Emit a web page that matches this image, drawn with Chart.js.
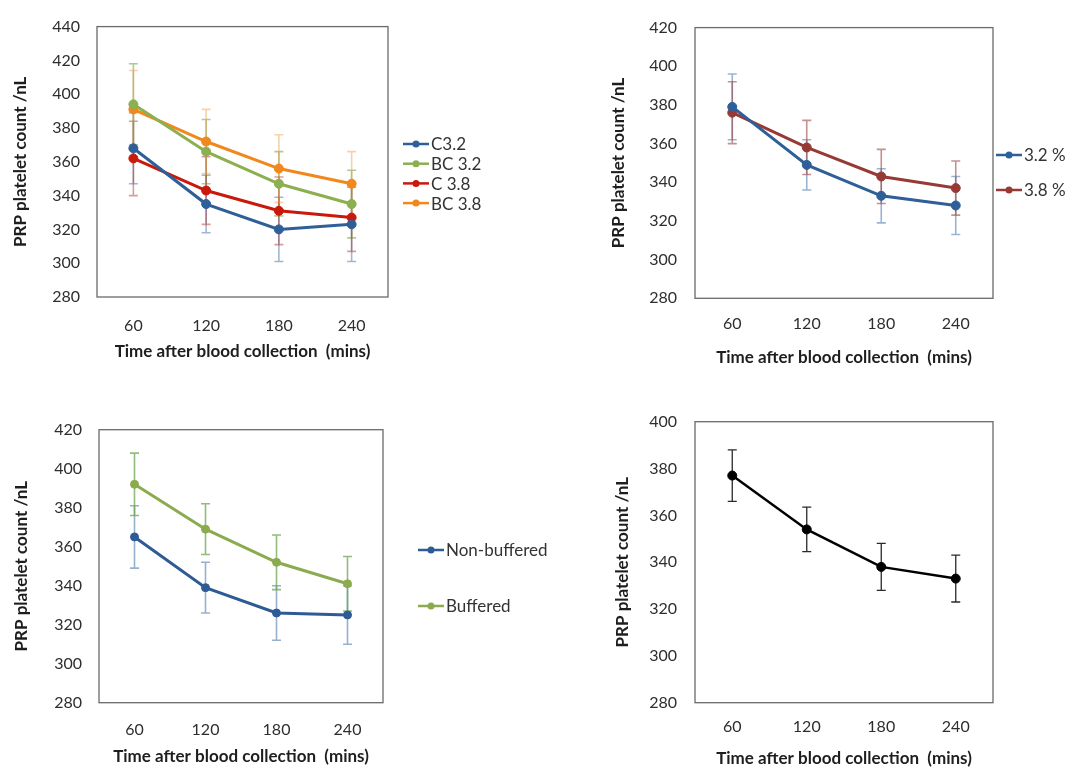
<!DOCTYPE html>
<html>
<head>
<meta charset="utf-8">
<title>PRP platelet count</title>
<script src="https://cdn.jsdelivr.net/npm/chart.js@4.4.1/dist/chart.umd.min.js"></script>
<style>
    html, body { margin: 0; padding: 0; background: #fff; }
    #page { position: relative; width: 1072px; height: 769px; }
    #page canvas { position: absolute; }
</style>
</head>
<body>
<div id="page">
    <canvas id="panelA" width="570" height="385" style="left:0;top:0"></canvas>
    <canvas id="panelB" width="527" height="385" style="left:545px;top:0"></canvas>
    <canvas id="panelC" width="570" height="384" style="left:0;top:385px"></canvas>
    <canvas id="panelD" width="527" height="384" style="left:545px;top:385px"></canvas>
</div>
<script>
// x categories (minutes after blood collection)
const minutes = ['60', '120', '180', '240'];

// panel A: citrate / buffered citrate
const c32 = [368, 335, 320, 323];
const c32Err = [21, 17, 19, 22];
const bc32 = [394, 366, 347, 335];
const bc32Err = [24, 19, 19, 20];
const c38 = [362, 343, 331, 327];
const c38Err = [22, 20, 20, 20];
const bc38 = [391, 372, 356, 347];
const bc38Err = [23, 19, 20, 19];
const rangeA = [280, 440];

// panel B: 3.2 % vs 3.8 %
const pct32 = [379, 349, 333, 328];
const pct32Err = [17, 13, 14, 15];
const pct38 = [376, 358, 343, 337];
const pct38Err = [16, 14, 14, 14];
const rangeB = [280, 420];

// panel C: non-buffered vs buffered
const nonBuffered = [365, 339, 326, 325];
const nonBufferedErr = [16, 13, 14, 15];
const buffered = [392, 369, 352, 341];
const bufferedErr = [16, 13, 14, 14];
const rangeC = [280, 420];

// panel D: all samples
const allSamples = [377, 354, 338, 333];
const allSamplesErr = [11, 9.5, 10, 10];
const rangeD = [280, 400];

const yStep = 20;
const yTitle = 'PRP platelet count /nL';
const xTitle = 'Time after blood collection  (mins)';

Chart.defaults.font.family = 'Lato, "Open Sans", sans-serif';

// vertical error bars with caps, drawn under the lines
const errorBars = {
    id: 'errorBars',
    beforeDatasetsDraw(chart, _args, opts) {
        const { ctx, scales: { x, y } } = chart;
        const cap = opts.cap || 4;
        ctx.save();
        ctx.lineWidth = opts.width || 1.5;
        chart.data.datasets.forEach((ds, i) => {
            if (!ds.errors) return;
            ctx.strokeStyle = ds.errorColor;
            ds.data.forEach((v, j) => {
                const e = ds.errors[j];
                const px = x.getPixelForValue(j);
                const top = y.getPixelForValue(v + e);
                const bot = y.getPixelForValue(v - e);
                ctx.beginPath();
                ctx.moveTo(px, top); ctx.lineTo(px, bot);
                ctx.moveTo(px - cap, top); ctx.lineTo(px + cap, top);
                ctx.moveTo(px - cap, bot); ctx.lineTo(px + cap, bot);
                ctx.stroke();
            });
        });
        ctx.restore();
    }
};

// frame around the plot area
const plotBox = {
    id: 'plotBox',
    beforeDatasetsDraw(chart) {
        const { ctx, chartArea: a } = chart;
        ctx.save();
        ctx.strokeStyle = '#6b6b6b';
        ctx.lineWidth = 1.3;
        ctx.strokeRect(a.left, a.top, a.right - a.left, a.bottom - a.top);
        ctx.restore();
    }
};

// excel style legend: short line with a marker, then the label
const sideLegend = {
    id: 'sideLegend',
    afterDraw(chart, _args, opts) {
        if (!opts || !opts.show) return;
        const { ctx } = chart;
        ctx.save();
        ctx.font = '17px ' + Chart.defaults.font.family;
        ctx.textBaseline = 'middle';
        chart.data.datasets.forEach((ds, i) => {
            const y = opts.y + i * opts.gap;
            ctx.strokeStyle = ds.borderColor;
            ctx.lineWidth = 2.5;
            ctx.beginPath();
            ctx.moveTo(opts.x, y);
            ctx.lineTo(opts.x + 26, y);
            ctx.stroke();
            ctx.fillStyle = ds.borderColor;
            ctx.beginPath();
            ctx.arc(opts.x + 13, y, 3.5, 0, Math.PI * 2);
            ctx.fill();
            ctx.fillStyle = '#333';
            ctx.fillText(ds.label, opts.x + 28, y + 1);
        });
        ctx.restore();
    }
};

function makePanel(id, cfg) {
    const canvas = document.getElementById(id);
    const W = canvas.width, H = canvas.height;
    const a = cfg.area;
    const titleSize = 17;
    const lh = titleSize * 1.2;
    const padLeft = cfg.yTitleX - lh / 2;
    const xBottom = cfg.xTitleY + lh / 2;
    const titleFont = { size: titleSize, weight: 'bold' };
    const tickFont = { size: 16 };

    return new Chart(canvas, {
        type: 'line',
        data: {
            labels: minutes,
            datasets: cfg.series.map(s => ({
                label: s.label,
                data: s.data,
                errors: s.err,
                errorColor: s.errColor,
                borderColor: s.color,
                backgroundColor: s.color,
                pointBackgroundColor: s.color,
                pointBorderColor: s.color,
                pointBorderWidth: 1,
                pointRadius: cfg.pointRadius || 4.5,
                borderWidth: cfg.lineWidth || 3,
                tension: 0
            }))
        },
        options: {
            responsive: false,
            animation: false,
            layout: {
                padding: { left: padLeft, top: a.top, right: W - a.right, bottom: H - xBottom }
            },
            plugins: {
                legend: { display: false },
                tooltip: { enabled: false },
                errorBars: { cap: 4.5, width: cfg.errWidth || 1.6 },
                sideLegend: cfg.legend || { show: false }
            },
            scales: {
                x: {
                    offset: true,
                    grid: { display: false, drawTicks: false },
                    border: { display: false },
                    ticks: { padding: cfg.xTickPad, color: '#2e2e2e', font: tickFont },
                    title: { display: true, text: xTitle, color: '#1e1e1e', font: titleFont, padding: 0 },
                    afterFit: s => { s.height = xBottom - a.bottom; }
                },
                y: {
                    min: cfg.range[0],
                    max: cfg.range[1],
                    grid: { display: false, drawTicks: false },
                    border: { display: false },
                    ticks: { stepSize: yStep, padding: cfg.yTickPad, color: '#2e2e2e', font: tickFont },
                    title: { display: true, text: yTitle, color: '#1e1e1e', font: titleFont, padding: 0 },
                    afterFit: s => { s.width = a.left - padLeft; }
                }
            }
        },
        plugins: [plotBox, errorBars, sideLegend]
    });
}

makePanel('panelA', {
    range: rangeA,
    area: { left: 97, right: 388, top: 15, bottom: 297 },
    yTitleX: 21, xTitleY: 352, xTickPad: 19, yTickPad: 17,
    legend: { show: true, x: 403, y: 144, gap: 19.7 },
    series: [
        { label: 'C3.2', data: c32, err: c32Err, color: '#2f5f98', errColor: 'rgba(47,95,152,0.45)' },
        { label: 'BC 3.2', data: bc32, err: bc32Err, color: '#8caf50', errColor: 'rgba(120,170,70,0.6)' },
        { label: 'C 3.8', data: c38, err: c38Err, color: '#c9190b', errColor: 'rgba(170,40,30,0.45)' },
        { label: 'BC 3.8', data: bc38, err: bc38Err, color: '#f0881d', errColor: 'rgba(240,150,70,0.45)' }
    ]
});

makePanel('panelB', {
    range: rangeB,
    area: { left: 150, right: 448, top: 12.7, bottom: 298.3 },
    yTitleX: 74, xTitleY: 358, xTickPad: 16, yTickPad: 18,
    legend: { show: true, x: 451, y: 155, gap: 35 },
    series: [
        { label: '3.2 %', data: pct32, err: pct32Err, color: '#2e5f98', errColor: 'rgba(70,120,175,0.55)' },
        { label: '3.8 %', data: pct38, err: pct38Err, color: '#973a36', errColor: 'rgba(160,70,70,0.6)' }
    ]
});

makePanel('panelC', {
    range: rangeC,
    area: { left: 99, right: 383, top: 44.7, bottom: 317.7 },
    yTitleX: 22, xTitleY: 372, xTickPad: 18, yTickPad: 17,
    legend: { show: true, x: 418, y: 165, gap: 56 },
    pointRadius: 4,
    series: [
        { label: 'Non-buffered', data: nonBuffered, err: nonBufferedErr, color: '#2e5b95', errColor: 'rgba(80,125,175,0.6)' },
        { label: 'Buffered', data: buffered, err: bufferedErr, color: '#8bab4f', errColor: 'rgba(110,165,80,0.75)' }
    ]
});

makePanel('panelD', {
    range: rangeD,
    area: { left: 150, right: 448, top: 36.7, bottom: 317.7 },
    yTitleX: 78, xTitleY: 374, xTickPad: 15, yTickPad: 18,
    lineWidth: 2.5, errWidth: 1.3,
    series: [
        { label: 'All', data: allSamples, err: allSamplesErr, color: '#000000', errColor: '#2a2a2a' }
    ]
});
</script>
</body>
</html>
